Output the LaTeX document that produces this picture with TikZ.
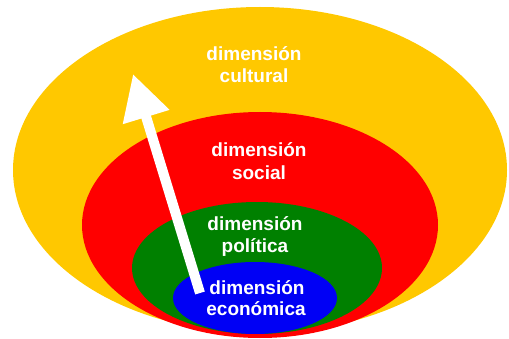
\documentclass[tikz,border=0pt]{standalone}
\usepackage{fontspec}
\setmainfont{Liberation Sans}
\usetikzlibrary{arrows.meta}
\definecolor{cyel}{RGB}{255,200,0}
\definecolor{cred}{RGB}{255,0,0}
\definecolor{cgreen}{RGB}{0,128,0}
\definecolor{cblue}{RGB}{0,0,245}
\begin{document}
\begin{tikzpicture}[x=1pt,y=1pt,
  lbl/.style={text=white,font=\fontsize{19}{22}\selectfont\bfseries,inner sep=0pt,anchor=base},
  bigarrow/.style={draw=white,line width=10pt,-{Triangle[length=45pt,width=46pt]}}]
\useasboundingbox (0,0) rectangle (509,338);
\fill[cyel] (260,168) ellipse [x radius=247, y radius=163];
\fill[cred] (260,113) ellipse [x radius=178, y radius=113];
\fill[cgreen] (257,70) ellipse [x radius=125, y radius=66];
\fill[cblue] (255,40) ellipse [x radius=82, y radius=36];
\coordinate (s) at (200,45);
\coordinate (t) at (133,264);
\draw[bigarrow] (s) -- (t);
\node[lbl] (cul1) at (254,277) {dimensión};
\node[lbl] (cul2) at (254,255) {cultural};
\node[lbl] (soc1) at (259,182) {dimensión};
\node[lbl] (soc2) at (259,158) {social};
\node[lbl] (pol1) at (255,108) {dimensión};
\node[lbl] (pol2) at (255,86) {política};
\node[lbl] (eco1) at (257,44) {dimensión};
\node[lbl] (eco2) at (256,23) {económica};
\end{tikzpicture}
\end{document}
